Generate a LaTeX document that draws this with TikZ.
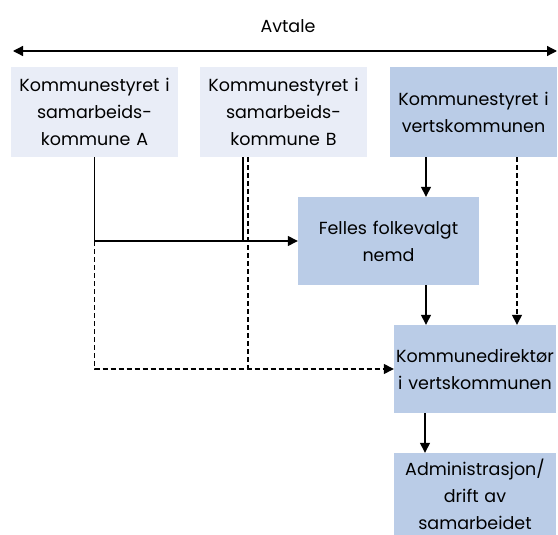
\documentclass[tikz,border=0pt]{standalone}
\usepackage{fontspec}
\setmainfont{Poppins}
\usetikzlibrary{arrows.meta}
\definecolor{lightbox}{HTML}{E9EDF7}
\definecolor{darkbox}{HTML}{BACCE7}
\begin{document}
\begin{tikzpicture}[x=1pt,y=1pt,
  txt/.style={font=\fontsize{17.5}{27}\selectfont, text=black},
  box/.style={txt, rectangle, inner sep=0pt, align=center},
  lbox/.style={box, fill=lightbox, minimum width=167pt, minimum height=90pt, text width=163pt},
  dbox/.style={box, fill=darkbox},
  tip/.style={-{Triangle[length=10pt,width=10pt]}},
  solidline/.style={line width=1.3pt, tip},
  plainline/.style={line width=1.3pt},
  dashline/.style={line width=1.3pt, dash pattern=on 5pt off 3pt},
  dasharrow/.style={dashline, tip},
]
\useasboundingbox (0,0) rectangle (558,-535);
% title and agreement arrow
\node[txt, anchor=base] (avtale) at (288,-33) {Avtale};
\coordinate (al) at (13,-51);
\coordinate (ar) at (557,-51);
\draw[line width=1.3pt, {Triangle[length=10pt,width=10pt]}-{Triangle[length=10pt,width=10pt]}] (al) -- (ar);
% boxes
\node[lbox] (boxA) at (94.5,-112) {Kommunestyret i\\samarbeids-\\kommune A};
\node[lbox] (boxB) at (283.5,-112) {Kommunestyret i\\samarbeids-\\kommune B};
\node[lbox, fill=darkbox] (boxV) at (473.5,-112) {Kommunestyret i\\vertskommunen};
\node[dbox, minimum width=181pt, minimum height=88pt, text width=177pt] (felles) at (388.5,-241) {Felles folkevalgt\\nemd};
\node[dbox, minimum width=162pt, minimum height=88pt, text width=160pt] (kdir) at (475,-369) {Kommunedirektør\\i vertskommunen};
\node[dbox, minimum width=162pt, minimum height=82pt, text width=160pt] (admin) at (475,-494) {Administrasjon/\\drift av\\samarbeidet};
% connectors from A
\coordinate (aj) at (boxA.south |- felles.west);
\draw[solidline] (boxA.south) |- (felles.west);
\draw[dasharrow] (aj) |- (kdir.west);
% connectors from B
\coordinate (bs) at ([xshift=-40.5pt]boxB.south);
\coordinate (bd) at ([xshift=-35.5pt]boxB.south);
\draw[plainline] (bs) -- (bs |- felles.west);
\draw[dashline] (bd) -- (bd |- kdir.west);
% connectors from V
\coordinate (vs) at ([xshift=-47.5pt]boxV.south);
\coordinate (vd) at ([xshift=43.5pt]boxV.south);
\draw[solidline] (vs) -- (vs |- felles.north);
\draw[dasharrow] (vd) -- (vd |- kdir.north);
% felles to kdir, kdir to admin
\coordinate (fs) at ([xshift=37.5pt]felles.south);
\draw[solidline] (fs) -- (fs |- kdir.north);
\coordinate (ks) at ([xshift=-50pt]kdir.south);
\draw[solidline] (ks) -- (ks |- admin.north);
\end{tikzpicture}
\end{document}
